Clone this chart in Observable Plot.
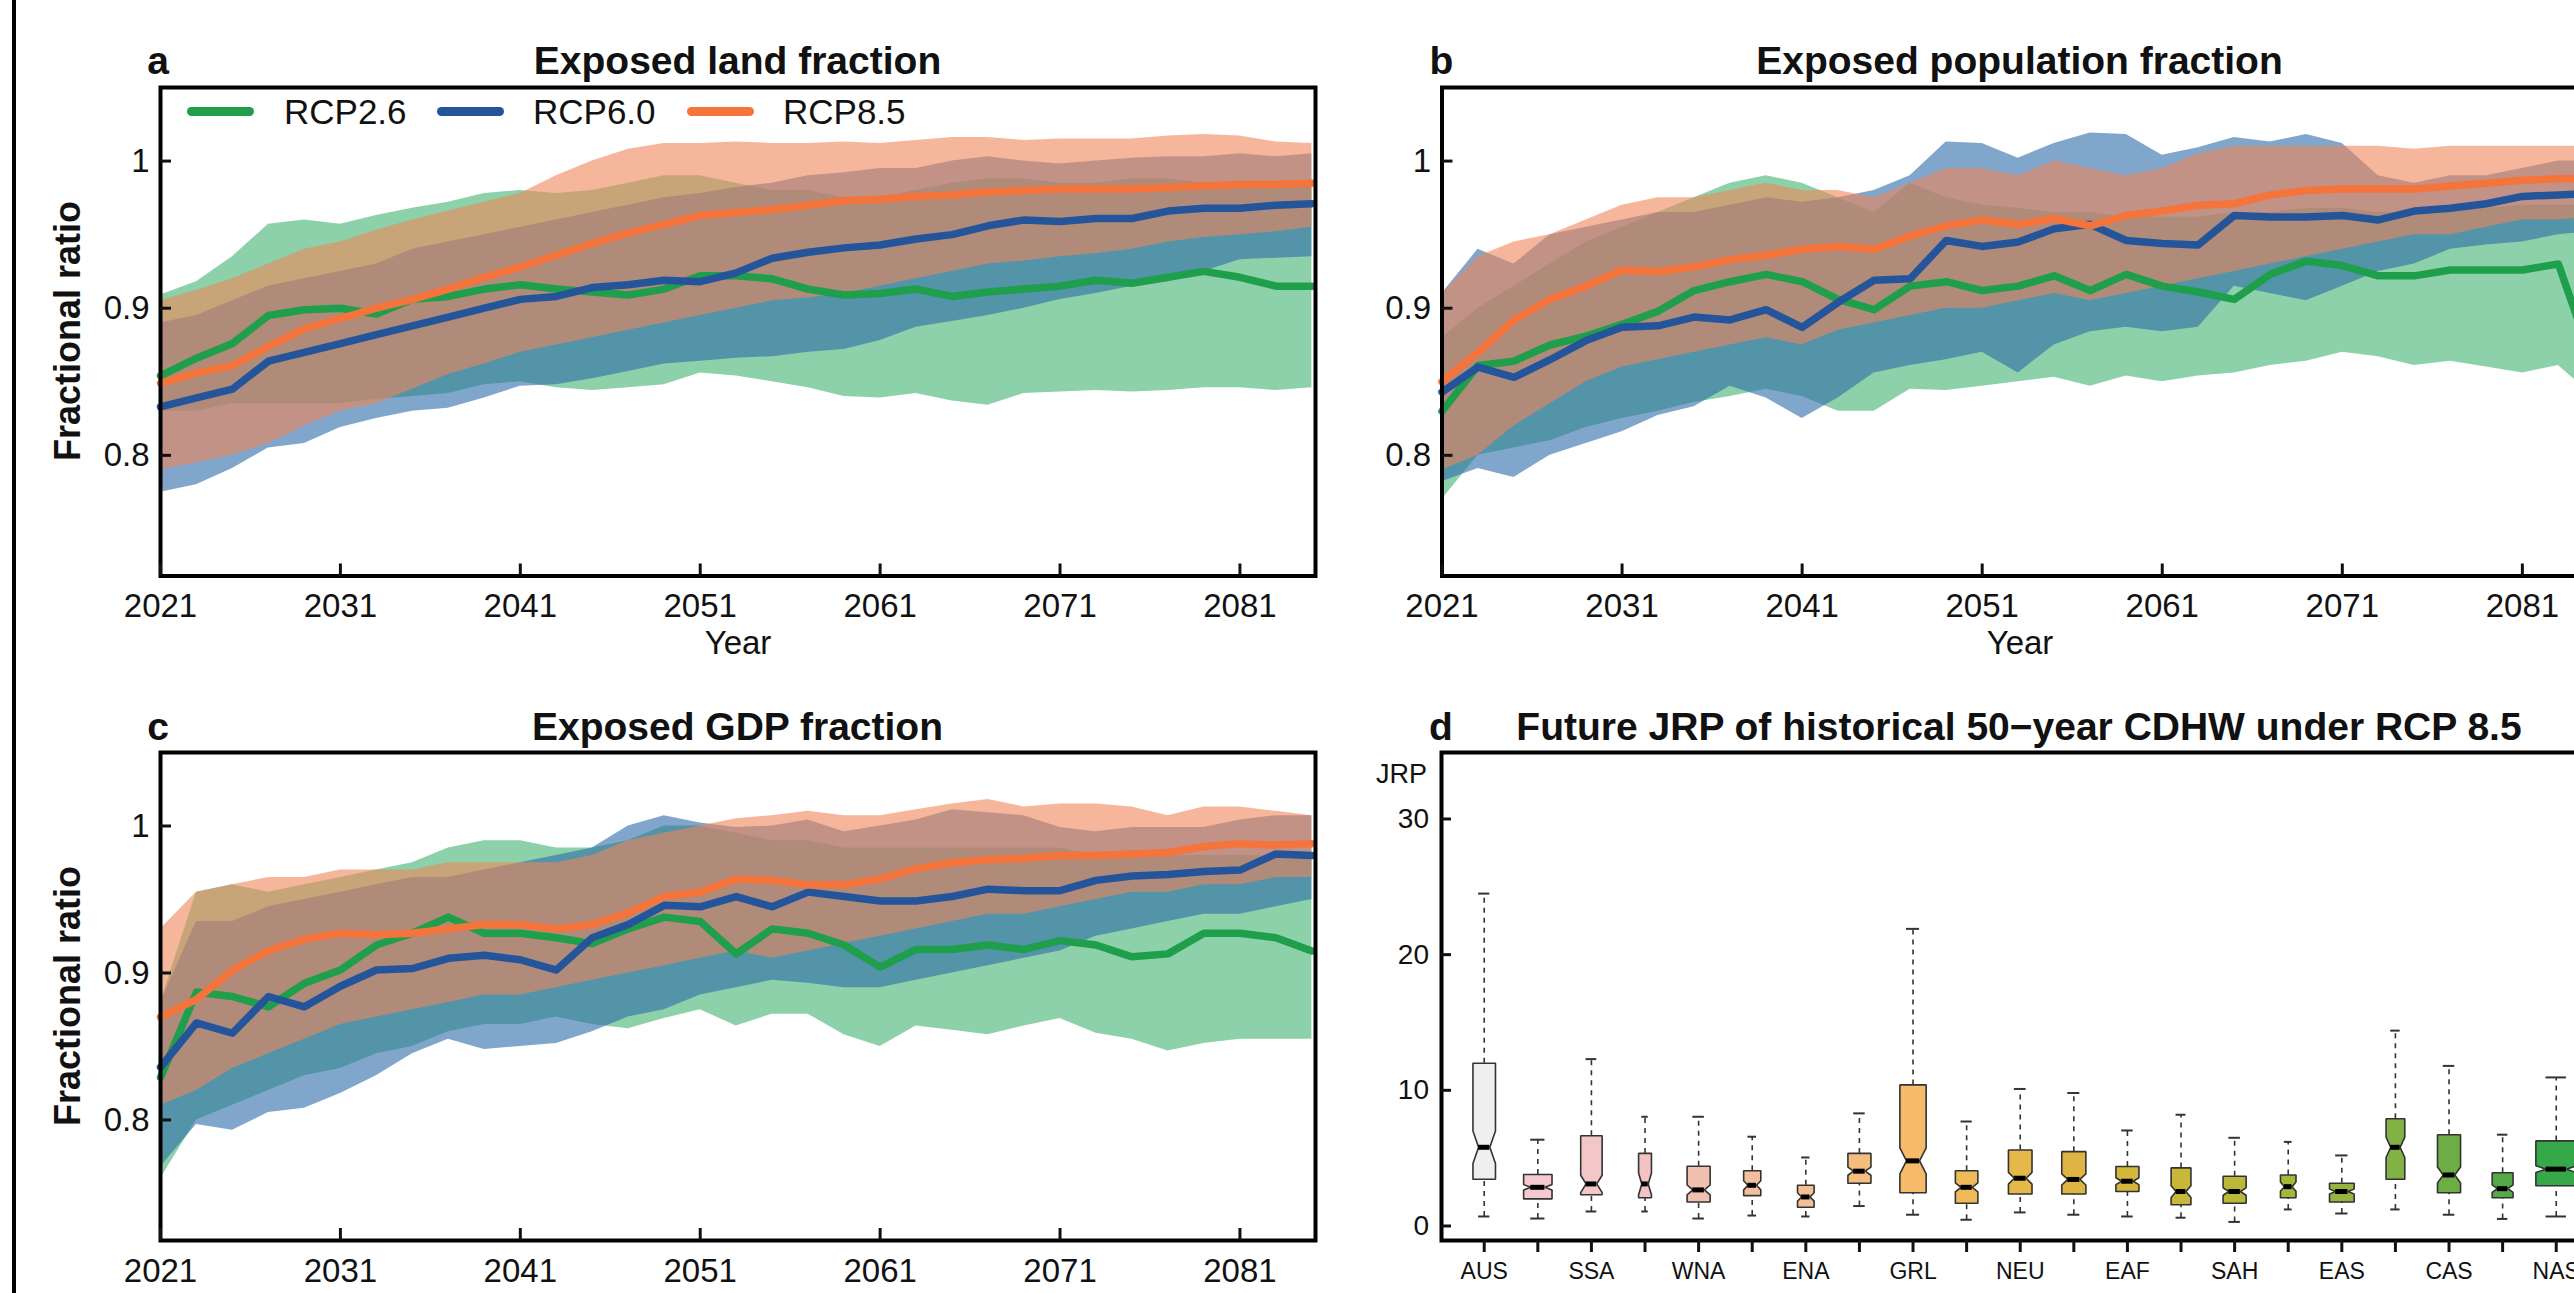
<!DOCTYPE html>
<html><head><meta charset="utf-8">
<script src="https://cdn.jsdelivr.net/npm/d3@7"></script>
<script src="https://cdn.jsdelivr.net/npm/@observablehq/plot@0.6"></script>
<style>
html,body{margin:0;padding:0;background:#fff;overflow:hidden;}
#fig{position:relative;width:2574px;height:1293px;overflow:hidden;background:#fff;font-family:"Liberation Sans",Arial,sans-serif;color:#111;}
#fig svg{position:absolute;}
</style></head><body><div id="fig"></div>
<script>
// ---------- data ----------
const years = d3.range(2021, 2086, 2);
const xTicks = [2021, 2031, 2041, 2051, 2061, 2071, 2081];
const yTicks = [0.8, 0.9, 1];
const scenarios = ["RCP2.6", "RCP6.0", "RCP8.5"];
const lineColors = ["#1f9e4b", "#24559b", "#f4743b"];
const bandColors = ["#3fb26f", "#2d6aa8", "#f0865a"];

// a: Exposed land fraction
const landMean26 = [.854,.866,.876,.895,.899,.900,.896,.906,.908,.913,.916,.913,.911,.909,.913,.922,.922,.920,.913,.909,.910,.913,.908,.911,.913,.915,.919,.917,.921,.925,.921,.915,.915];
const landMean60 = [.833,.839,.845,.864,.870,.876,.882,.888,.894,.900,.906,.908,.914,.916,.919,.918,.924,.934,.938,.941,.943,.947,.950,.956,.960,.959,.961,.961,.966,.968,.968,.970,.971];
const landMean85 = [.849,.856,.861,.874,.886,.893,.900,.906,.913,.921,.928,.936,.944,.951,.957,.963,.965,.967,.970,.973,.974,.976,.977,.979,.980,.981,.981,.981,.982,.983,.984,.984,.985];
const landLo26 = [.83,.83,.835,.835,.835,.835,.838,.84,.842,.848,.85,.846,.844,.846,.848,.856,.854,.85,.846,.840,.839,.842,.837,.834,.842,.843,.844,.843,.844,.846,.846,.844,.846];
const landHi26 = [.909,.918,.935,.957,.960,.957,.963,.968,.972,.978,.980,.978,.980,.985,.990,.990,.985,.980,.980,.975,.975,.980,.985,.988,.988,.985,.985,.988,.988,.985,.985,.982,.982];
const landLo60 = [.775,.78,.791,.805,.808,.819,.825,.830,.832,.839,.847,.848,.852,.857,.862,.864,.866,.867,.87,.872,.878,.887,.891,.895,.90,.906,.91,.915,.918,.925,.933,.934,.935];
const landHi60 = [.89,.895,.905,.915,.92,.925,.93,.94,.945,.95,.955,.96,.965,.97,.975,.978,.982,.985,.99,.992,.995,.995,1.0,1.003,1.0,.998,1.0,1.002,1.003,1.003,1.005,1.003,1.005];
const landLo85 = [.79,.795,.80,.808,.82,.83,.835,.845,.855,.862,.87,.875,.88,.885,.89,.895,.90,.905,.907,.91,.915,.92,.925,.93,.932,.935,.937,.94,.945,.948,.95,.952,.955];
const landHi85 = [.905,.912,.92,.93,.94,.945,.953,.96,.966,.972,.978,.99,1.0,1.008,1.012,1.012,1.013,1.012,1.012,1.013,1.012,1.014,1.016,1.016,1.014,1.015,1.015,1.015,1.017,1.018,1.017,1.013,1.012];

// b: Exposed population fraction
const popMean26 = [.83,.861,.864,.875,.881,.889,.898,.912,.918,.923,.918,.906,.899,.915,.918,.912,.915,.922,.912,.923,.915,.911,.906,.923,.932,.929,.922,.922,.926,.926,.926,.93,.86];
const popMean60 = [.843,.86,.853,.865,.878,.887,.888,.894,.892,.899,.887,.904,.919,.92,.946,.942,.945,.954,.957,.946,.944,.943,.963,.962,.962,.963,.96,.966,.968,.971,.976,.977,.978];
const popMean85 = [.85,.87,.892,.906,.915,.926,.925,.928,.933,.936,.94,.942,.94,.949,.956,.96,.957,.961,.956,.963,.966,.97,.971,.977,.98,.981,.981,.981,.983,.985,.987,.988,.988];
const popLo26 = [.77,.80,.805,.81,.819,.825,.83,.836,.84,.845,.84,.83,.83,.845,.844,.847,.85,.853,.847,.854,.85,.854,.856,.861,.864,.87,.867,.861,.864,.86,.856,.861,.84];
const popHi26 = [.88,.90,.915,.93,.945,.955,.965,.975,.985,.99,.985,.975,.965,.985,.975,.97,.968,.965,.965,.962,.962,.962,.965,.965,.968,.968,.965,.965,.968,.968,.97,.97,.97];
const popLo60 = [.782,.791,.785,.80,.808,.816,.827,.833,.847,.839,.825,.839,.856,.861,.865,.87,.856,.875,.884,.887,.884,.887,.915,.91,.905,.915,.925,.93,.94,.943,.945,.95,.952];
const popHi60 = [.91,.94,.93,.95,.955,.96,.965,.965,.97,.975,.972,.975,.98,.99,1.013,1.012,1.002,1.012,1.019,1.018,1.004,1.009,1.016,1.013,1.018,1.012,.99,.985,.99,.99,.995,1.0,1.0];
const popLo85 = [.79,.80,.82,.835,.85,.86,.865,.87,.875,.88,.875,.885,.89,.895,.90,.90,.905,.91,.905,.91,.915,.92,.925,.93,.935,.94,.945,.95,.95,.955,.96,.96,.962];
const popHi85 = [.91,.935,.945,.95,.96,.97,.975,.975,.98,.985,.98,.98,.975,.985,.995,.995,.99,1.0,.995,.99,.995,1.005,1.01,1.01,1.01,1.01,1.01,1.008,1.01,1.01,1.01,1.01,1.01];

// c: Exposed GDP fraction
const gdpMean26 = [.829,.887,.884,.877,.893,.902,.919,.927,.938,.927,.927,.924,.92,.93,.938,.935,.913,.93,.927,.919,.904,.916,.916,.919,.916,.922,.919,.911,.913,.927,.927,.924,.915];
const gdpMean60 = [.836,.866,.859,.884,.877,.891,.902,.903,.91,.912,.909,.902,.924,.933,.946,.945,.952,.945,.955,.952,.949,.949,.952,.957,.956,.956,.963,.966,.967,.969,.97,.981,.98];
const gdpMean85 = [.87,.882,.902,.915,.923,.927,.926,.927,.93,.933,.933,.93,.933,.941,.952,.955,.964,.963,.96,.96,.964,.971,.975,.977,.978,.98,.98,.981,.982,.986,.988,.987,.988];
const gdpLo26 = [.76,.80,.81,.82,.83,.835,.845,.85,.86,.865,.865,.87,.865,.862,.869,.875,.864,.872,.872,.858,.85,.864,.861,.858,.864,.869,.859,.855,.847,.852,.855,.855,.855];
const gdpHi26 = [.88,.955,.96,.955,.96,.965,.97,.975,.985,.99,.99,.985,.985,.99,1.0,1.0,.995,.99,.99,.985,.985,.985,.985,.985,.985,.985,.98,.98,.98,.98,.98,.98,.98];
const gdpLo60 = [.768,.797,.793,.805,.808,.818,.83,.845,.855,.848,.85,.852,.86,.87,.875,.885,.89,.895,.893,.89,.89,.895,.9,.905,.91,.915,.925,.93,.935,.94,.94,.945,.95];
const gdpHi60 = [.88,.935,.935,.945,.95,.955,.96,.965,.965,.97,.975,.98,.985,1.0,1.007,1.002,.999,1.0,1.004,.996,1.0,1.004,1.011,1.009,1.007,.999,.996,.999,.999,.999,1.004,1.007,1.007];
const gdpLo85 = [.81,.82,.835,.845,.855,.865,.87,.875,.88,.885,.885,.89,.895,.9,.905,.91,.915,.91,.915,.92,.925,.93,.935,.94,.94,.945,.95,.955,.955,.96,.96,.965,.965];
const gdpHi85 = [.93,.955,.96,.965,.965,.97,.97,.97,.975,.975,.975,.975,.98,.99,.995,1.0,1.005,1.007,1.01,1.007,1.007,1.011,1.015,1.018,1.013,1.015,1.015,1.013,1.007,1.013,1.013,1.01,1.007];

// d: Future JRP boxplots
const regionLabels = ["AUS","","SSA","","WNA","","ENA","","GRL","","NEU","","EAF","","SAH","","EAS","","CAS","","NAS"];
const whiskerLo = [0.7,0.55,1.07,1.07,0.55,0.77,0.7,1.47,0.83,0.46,1.0,0.83,0.7,0.61,0.3,1.22,0.92,1.22,0.83,0.52,0.7];
const quart1   = [3.45,2.0,2.3,2.08,1.77,2.24,1.38,3.15,2.45,1.68,2.36,2.36,2.54,1.56,1.68,2.08,1.77,3.45,2.45,2.08,2.97];
const medians  = [5.8,2.85,3.1,3.1,2.66,3.0,2.14,4.04,4.8,2.85,3.52,3.43,3.3,2.54,2.54,2.9,2.54,5.8,3.76,2.75,4.19];
const quart3   = [12.0,3.8,6.65,5.35,4.4,4.07,3.0,5.35,10.4,4.07,5.6,5.48,4.38,4.28,3.67,3.76,3.15,7.9,6.73,3.92,6.27];
const whiskerHi= [24.5,6.36,12.3,8.05,8.05,6.58,5.05,8.3,21.9,7.7,10.1,9.8,7.04,8.2,6.5,6.2,5.2,14.4,11.8,6.73,10.95];
const relWidth = [0.42,0.53,0.40,0.24,0.43,0.32,0.31,0.43,0.49,0.42,0.44,0.45,0.43,0.37,0.43,0.29,0.46,0.35,0.43,0.39,0.76];
const boxColors = ["#efefef","#f4c9d0","#f3c6c8","#f3c3c3","#f2c0b0","#f3bf9f","#f3c096","#f4bd7d","#f5bb6a","#efba5a","#e5b84a","#deb542","#d4b63a","#c9b737","#bab838","#a8b63c","#96b440","#82b244","#6cae45","#55aa47","#36a84a"];
const jrpTicks = [0, 10, 20, 30];

// ---------- helpers ----------
const fig = document.getElementById("fig");
const FONT = "'Liberation Sans', Arial, sans-serif";

function txt(s, x, baseline, size, bold, anchor) {
  const el = document.createElement("div");
  el.textContent = s;
  el.style.cssText = `position:absolute;white-space:nowrap;font-size:${size}px;line-height:${size}px;font-weight:${bold ? "bold" : "normal"};left:${x}px;top:${baseline - 0.8465 * size}px;`;
  if (anchor === "middle") el.style.transform = "translateX(-50%)";
  fig.appendChild(el);
  return el;
}
function place(svg, left, top) {
  svg.style.left = left + "px";
  svg.style.top = top + "px";
  fig.appendChild(svg);
}

function tsPanel(means, los, his, geo) {
  const marks = [];
  for (let s = 0; s < 3; s++) {
    const rows = years.map((yr, i) => ({yr, lo: los[s][i], hi: his[s][i]}));
    marks.push(Plot.areaY(rows, {x: "yr", y1: "lo", y2: "hi", fill: bandColors[s], fillOpacity: 0.6}));
  }
  for (let s = 0; s < 3; s++) {
    const rows = years.map((yr, i) => ({yr, v: means[s][i]}));
    marks.push(Plot.line(rows, {x: "yr", y: "v", stroke: lineColors[s], strokeWidth: 7.5, strokeLinejoin: "round"}));
  }
  marks.push(Plot.frame({stroke: "#000", strokeWidth: 4}));
  marks.push(Plot.axisX(xTicks, {tickSize: -12, tickPadding: 30, tickFormat: d => String(d), strokeWidth: 3, fontSize: 33, label: null}));
  marks.push(Plot.axisY(yTicks, {tickSize: -11, tickPadding: 22, tickFormat: d => d === 1 ? "1" : d.toFixed(1), strokeWidth: 3, fontSize: 33, label: null}));
  return Plot.plot({
    width: geo.width, height: geo.height,
    marginLeft: geo.ml, marginRight: geo.mr, marginTop: geo.mt, marginBottom: geo.mb,
    x: {domain: [2021, 2085.2]},
    y: {domain: [0.718, 1.05]},
    style: {fontFamily: FONT, fontSize: "33px", color: "#111", background: "transparent", overflow: "visible", maxWidth: "none"},
    marks
  });
}

// ---------- panels a, b, c ----------
place(tsPanel([landMean26, landMean60, landMean85], [landLo26, landLo60, landLo85], [landHi26, landHi60, landHi85],
  {width: 1335, height: 666, ml: 160, mr: 20, mt: 87, mb: 90.5}), 0, 0);
place(tsPanel([popMean26, popMean60, popMean85], [popLo26, popLo60, popLo85], [popHi26, popHi60, popHi85],
  {width: 1317, height: 666, ml: 141.5, mr: 19.5, mt: 87, mb: 90.5}), 1300, 0);
place(tsPanel([gdpMean26, gdpMean60, gdpMean85], [gdpLo26, gdpLo60, gdpLo85], [gdpHi26, gdpHi60, gdpHi85],
  {width: 1335, height: 628, ml: 160, mr: 20, mt: 87, mb: 53}), 0, 665);

// ---------- panel d ----------
const boxes = regionLabels.map((lab, i) => ({
  i, lab, lo: whiskerLo[i], q1: quart1[i], med: medians[i], q3: quart3[i], hi: whiskerHi[i], w: relWidth[i], fill: boxColors[i]
}));
const notchScale = 26.8; // sqrt(n) proportional to box width (varwidth)
const dMarks = [];
for (const b of boxes) {
  const hw = b.w / 2, n = 1.58 * (b.q3 - b.q1) / (notchScale * b.w), c = b.i;
  const pts = [[c-hw,b.q1],[c-hw,b.med-n],[c-hw/2,b.med],[c-hw,b.med+n],[c-hw,b.q3],[c+hw,b.q3],[c+hw,b.med+n],[c+hw/2,b.med],[c+hw,b.med-n],[c+hw,b.q1],[c-hw,b.q1]]
    .map(([x, y]) => ({x, y}));
  dMarks.push(Plot.line(pts, {x: "x", y: "y", fill: b.fill, stroke: "#333", strokeWidth: 1.6, strokeLinejoin: "miter"}));
}
dMarks.push(
  Plot.ruleX(boxes, {x: "i", y1: "q3", y2: "hi", stroke: "#333", strokeWidth: 1.6, strokeDasharray: "5,5"}),
  Plot.ruleX(boxes, {x: "i", y1: "lo", y2: "q1", stroke: "#333", strokeWidth: 1.6, strokeDasharray: "5,5"}),
  Plot.ruleY(boxes, {y: "hi", x1: d => d.i - d.w / 4, x2: d => d.i + d.w / 4, stroke: "#333", strokeWidth: 2}),
  Plot.ruleY(boxes, {y: "lo", x1: d => d.i - d.w / 4, x2: d => d.i + d.w / 4, stroke: "#333", strokeWidth: 2}),
  Plot.ruleY(boxes, {y: "med", x1: d => d.i - d.w / 4, x2: d => d.i + d.w / 4, stroke: "#000", strokeWidth: 5}),
  Plot.frame({stroke: "#000", strokeWidth: 4}),
  Plot.axisX(d3.range(regionLabels.length), {tickSize: 12, tickPadding: 10, tickFormat: i => regionLabels[i], strokeWidth: 3, fontSize: 23, label: null}),
  Plot.axisY(jrpTicks, {tickSize: -10, tickPadding: 22.5, tickFormat: d => String(d), strokeWidth: 3, fontSize: 28, label: null})
);
place(Plot.plot({
  width: 1317, height: 628, marginLeft: 141, marginRight: 20, marginTop: 87, marginBottom: 53,
  x: {domain: [-0.797, 20.77]},
  y: {domain: [-1.07, 34.9]},
  style: {fontFamily: FONT, fontSize: "23px", color: "#111", background: "transparent", overflow: "visible", maxWidth: "none"},
  marks: dMarks
}), 1300, 665);

// ---------- texts ----------
txt("a", 158, 74.5, 39, true, "middle");
txt("Exposed land fraction", 737.5, 74.5, 39, true, "middle");
txt("b", 1441.5, 74.5, 39, true, "middle");
txt("Exposed population fraction", 2019.5, 74.5, 39, true, "middle");
txt("c", 158, 740, 39, true, "middle");
txt("Exposed GDP fraction", 737.5, 740, 39, true, "middle");
txt("d", 1441, 740, 39, true, "middle");
txt("Future JRP of historical 50\u2212year CDHW under RCP 8.5", 2019, 740, 39, true, "middle");
txt("Year", 738, 654, 33, false, "middle");
txt("Year", 2020, 654, 33, false, "middle");
txt("JRP", 1401.5, 784, 27, false, "middle");

for (const cy of [331, 996]) {
  const el = document.createElement("div");
  el.textContent = "Fractional ratio";
  el.style.cssText = `position:absolute;white-space:nowrap;font-size:36px;line-height:36px;font-weight:bold;left:68px;top:${cy}px;transform:translate(-50%,-50%) rotate(-90deg);`;
  fig.appendChild(el);
}

// legend (panel a)
const legendX = [[186.5, 284], [437, 533], [687, 783]];
scenarios.forEach((s, k) => {
  const sw = document.createElement("div");
  sw.style.cssText = `position:absolute;left:${legendX[k][0]}px;top:106.5px;width:67px;height:9px;border-radius:4.5px;background:${lineColors[k]};`;
  fig.appendChild(sw);
  txt(s, legendX[k][1], 124, 35, false, "start");
});

// outer figure border on the left
const border = document.createElement("div");
border.style.cssText = "position:absolute;left:12px;top:0;width:4px;height:1293px;background:#000;";
fig.appendChild(border);
</script></body></html>
